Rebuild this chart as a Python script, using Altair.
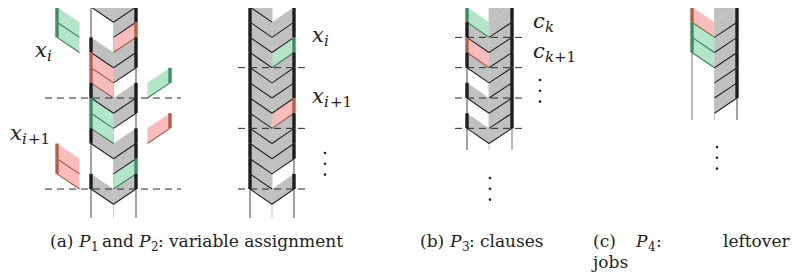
import altair as alt
import pandas as pd

# ---------------- data: cell patterns (row -1 first), per panel / lane ----------------
# codes: g = gray job, w = empty, r = red (false) job, n = green (true) job
panel_names = ["A1", "A2", "B", "C"]
left_lane = {"A1": "g" + "wwgrrg" + "nngwwg",
             "A2": "g" + "gggg" + "gggg" + "gggg",
             "B": "w" + "ngrgwgwg",
             "C": "w" + "rnnwww"}
right_lane = {"A1": "g" + "grggwg" + "gwggng",
              "A2": "w" + "ggng" + "ggrg" + "ggwg",
              "B": "g" + "gggggggg",
              "C": "g" + "gggggg"}
top_line = {"A1": True, "A2": True, "B": False, "C": False}
# floating (removed) jobs in panel (a): (lane, row, colour, side)
floating = [("L", 0, "n", -1), ("L", 1, "n", -1), ("L", 9, "r", -1), ("L", 10, "r", -1),
            ("R", 4, "n", 1), ("R", 7, "r", 1)]
# dashed separators (row index) per panel
separators = {"A1": [6, 12], "A2": [4, 8, 12], "B": [2, 4, 6, 8]}

# ---------------- layout ----------------
TOP = 7.0
RH = 15.17
SL = 15.17
geom = {"A1": (91, 113.5, 136, 218), "A2": (250, 272, 294, 218),
        "B": (467, 489, 512, 150), "C": (692, 714.5, 737, 120)}
outer_col = {"A1": ("#444444", "#444444"), "A2": ("#444444", "#444444"),
             "B": ("#444444", "#777777"), "C": ("#777777", "#444444")}
dash_ext = {"A1": (45, 181), "A2": (238, 306), "B": (455, 523)}
FLOAT_DX = 34

FILL = {"g": "#c0c0c0", "r": "#f8bcbc", "n": "#b4e5c9"}
EDGE = {"g": "#1e1e1e", "r": "#b25f4a", "n": "#3e8d60"}
LINE = {"g": "#222222", "r": "#a8533f", "n": "#357f55"}

areas, lines, edges, rules = [], [], [], []


def add_cell(pid, lane, k, code, L, C, R, dx=0.0, draw_line=True):
    if code == "w":
        return
    t = TOP + k * RH
    if lane == "L":
        xa, xb = L + dx, C + dx
        ya_top, ya_bot = t, t + RH
        yb_top, yb_bot = t + SL, t + SL + RH
        ex = xa
    else:
        xa, xb = C + dx, R + dx
        ya_top, ya_bot = t + SL, t + SL + RH
        yb_top, yb_bot = t, t + RH
        ex = xb
    cid = f"{pid}-{lane}-{k}-{dx}"
    for x, a, b in ((xa, ya_top, ya_bot), (xb, yb_top, yb_bot)):
        areas.append({"id": cid, "x": x, "top": max(a, TOP), "bot": max(b, TOP), "fill": FILL[code]})
    if draw_line:
        lines.append({"x": xa, "y": max(ya_bot, TOP), "x2": xb, "y2": max(yb_bot, TOP), "c": LINE[code]})
    e0, e1 = max(t, TOP), max(t + RH, TOP)
    if e1 > e0:
        edges.append({"x": ex, "y": e0, "y2": e1, "c": EDGE[code]})


for pid in panel_names:
    L, C, R, bottom = geom[pid]
    for lane, pattern in (("L", left_lane[pid]), ("R", right_lane[pid])):
        for i, code in enumerate(pattern):
            k = i - 1
            add_cell(pid, lane, k, code, L, C, R, draw_line=(k >= 0 or top_line[pid]))
    cl, cr = outer_col[pid]
    rules.append({"x": L, "y": TOP, "x2": L, "y2": bottom, "c": cl, "d": "solid"})
    rules.append({"x": C, "y": TOP, "x2": C, "y2": bottom, "c": "#c8c8c8", "d": "solid"})
    rules.append({"x": R, "y": TOP, "x2": R, "y2": bottom, "c": cr, "d": "solid"})
    for s in separators.get(pid, []):
        y = TOP + s * RH
        x0, x1 = dash_ext[pid]
        rules.append({"x": x0, "y": y, "x2": x1, "y2": y, "c": "#2a2a2a", "d": "dash"})

L, C, R, _ = geom["A1"]
for lane, k, code, side in floating:
    add_cell("F", lane, k, code, L, C, R, dx=side * FLOAT_DX)

dots = []
for (x, y0) in ((325, 153), (540, 80), (490, 178), (717, 147)):
    for j in range(3):
        dots.append({"x": x, "y": y0 + j * 10.8})

texts = [
    # math labels
    ("x", 35, 57, "mi"), ("i", 47, 61, "ms"),
    ("x", 10, 140, "mi"), ("i", 22, 144, "ms"), ("+1", 28, 144, "rs"),
    ("x", 312, 42, "mi"), ("i", 324, 46, "ms"),
    ("x", 312, 103, "mi"), ("i", 324, 107, "ms"), ("+1", 330, 107, "rs"),
    ("c", 533, 28, "mi"), ("k", 545, 32, "ms"),
    ("c", 533, 58, "mi"), ("k", 545, 62, "ms"), ("+1", 554, 62, "rs"),
    # captions
    ("(a)", 50, 247, "rm"), ("P", 79, 247, "it"), ("1", 91, 251, "sb"),
    ("and", 102, 247, "rm"), ("P", 139, 247, "it"), ("2", 151, 251, "sb"),
    (":", 158, 247, "rm"), ("variable assignment", 169, 247, "rm"),
    ("(b)", 420, 247, "rm"), ("P", 450, 247, "it"), ("3", 462, 251, "sb"),
    (":", 469, 247, "rm"), ("clauses", 480, 247, "rm"),
    ("(c)", 593, 247, "rm"), ("P", 636, 247, "it"), ("4", 648, 251, "sb"),
    (":", 656, 247, "rm"), ("leftover", 723, 247, "rm"),
    ("jobs", 593, 268, "rm"),
]
tdf = pd.DataFrame(texts, columns=["t", "x", "y", "s"])

xs = alt.Scale(domain=[8, 796], nice=False, zero=False)
ys = alt.Scale(domain=[8, 273], nice=False, zero=False, reverse=True)
X = lambda f="x": alt.X(f"{f}:Q", scale=xs, axis=None)
Y = lambda f="y": alt.Y(f"{f}:Q", scale=ys, axis=None)

area_layer = alt.Chart(pd.DataFrame(areas)).mark_area(orient="vertical", strokeWidth=0).encode(
    x=X(), y=Y("top"), y2="bot:Q", detail="id:N", color=alt.Color("fill:N", scale=None))

rdf = pd.DataFrame(rules)
solid_layer = alt.Chart(rdf[rdf.d == "solid"]).mark_rule(strokeWidth=1).encode(
    x=X(), y=Y(), x2="x2:Q", y2="y2:Q", color=alt.Color("c:N", scale=None))
dash_layer = alt.Chart(rdf[rdf.d == "dash"]).mark_rule(strokeWidth=1, strokeDash=[7, 5]).encode(
    x=X(), y=Y(), x2="x2:Q", y2="y2:Q", color=alt.Color("c:N", scale=None))
line_layer = alt.Chart(pd.DataFrame(lines)).mark_rule(strokeWidth=1.1).encode(
    x=X(), y=Y(), x2="x2:Q", y2="y2:Q", color=alt.Color("c:N", scale=None))
edge_layer = alt.Chart(pd.DataFrame(edges)).mark_rule(strokeWidth=3.4, strokeCap="butt").encode(
    x=X(), y=Y(), y2="y2:Q", color=alt.Color("c:N", scale=None))
dot_layer = alt.Chart(pd.DataFrame(dots)).mark_circle(size=7, color="#222222", opacity=1).encode(
    x=X(), y=Y())

SERIF = "DejaVu Serif"
styles = {
    "mi": dict(fontSize=21, fontStyle="italic"),
    "ms": dict(fontSize=15, fontStyle="italic"),
    "rs": dict(fontSize=15),
    "rm": dict(fontSize=17),
    "it": dict(fontSize=17, fontStyle="italic"),
    "sb": dict(fontSize=12),
}
text_layers = []
for s, kw in styles.items():
    text_layers.append(
        alt.Chart(tdf[tdf.s == s]).mark_text(align="left", baseline="alphabetic", font=SERIF,
                                             color="#222222", **kw).encode(x=X(), y=Y(), text="t:N"))

chart = alt.layer(area_layer, solid_layer, line_layer, edge_layer, dash_layer, dot_layer, *text_layers).properties(
    width=788, height=265, padding=0, autosize=alt.AutoSizeParams(type="none")
).configure_view(stroke=None)

chart.save("out.html", embed_options={"renderer": "svg", "actions": False})
